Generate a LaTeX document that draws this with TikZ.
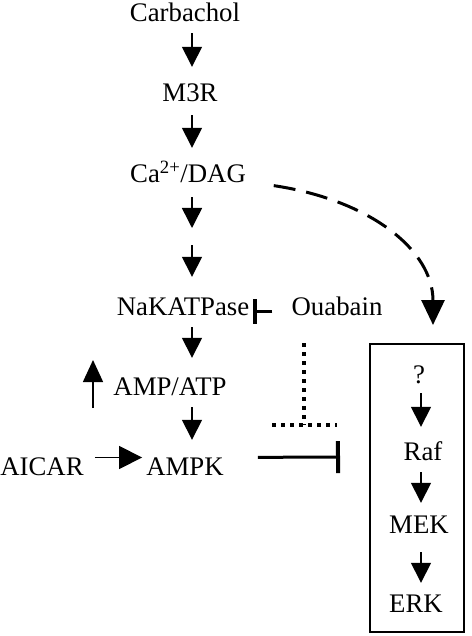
\documentclass[tikz,border=0pt]{standalone}
\usepackage{fontspec}
\setmainfont{Liberation Serif}
\usetikzlibrary{arrows.meta}
\tikzset{
  lbl/.style={inner sep=0pt, anchor=base, text height=18pt, text depth=5pt},
  act/.style={-{Triangle[length=20pt,width=20pt]}, line width=1.5pt,
              shorten <=7pt, shorten >=17pt},
  inh/.style={-{Rectangle[length=4pt, width=#1]}, line width=3pt},
  dashline/.style={dash pattern=on 22pt off 11pt, line width=3pt},
  dotline/.style={dash pattern=on 4pt off 5pt, line width=4pt},
}

\begin{document}
\begin{tikzpicture}[x=1pt,y=-1pt,font=\fontsize{26.8}{32}\selectfont]
\useasboundingbox (0,0) rectangle (471,636);
% main column
  \node[lbl] (carb) at (185,22) {Carbachol};
  \node[lbl] (m3r) at (190,102) {M3R};
  \node[lbl] (ca) at (188,183) {Ca\textsuperscript{2+}/DAG};
  \node[lbl] (nak) at (183,315) {NaKATPase};
  \node[lbl] (oua) at (337,315) {Ouabain};
  \node[lbl] (amp) at (170,395) {AMP/ATP};
  \node[lbl] (aicar) at (42,475) {AICAR};
  \node[lbl] (ampk) at (185,475) {AMPK};
  \coordinate (col) at (192,0);
  \coordinate (gap) at (192,237);
% the box
  \node[draw, line width=2pt, inner sep=0pt, minimum width=94pt,
        minimum height=288pt] (box) at (417,488) {};
  \node[lbl] (q) at (419,383) {?};
  \node[lbl] (raf) at (423,460) {Raf};
  \node[lbl] (mek) at (419,533) {MEK};
  \node[lbl] (erk) at (416,612) {ERK};
  \coordinate (bcol) at (421,0);
% arrows
  \draw[act, shorten <=6pt] (carb.south -| col) -- (m3r.north -| col);
  \draw[act, shorten <=8pt] (m3r.south -| col) -- (ca.north -| col);
  \draw[act, shorten <=9pt, shorten >=9pt] (ca.south -| col) -- (gap);
  \draw[act, shorten <=8pt, shorten >=20pt] (gap) -- (nak.north -| col);
  \draw[act, shorten >=19pt] (nak.south -| col) -- (amp.north -| col);
  \draw[act] (amp.south -| col) -- (ampk.north -| col);
  \draw[act, shorten <=5pt, shorten >=15pt] (q.south -| bcol) -- (raf.north -| bcol);
  \draw[act, shorten >=12pt] (raf.south -| bcol) -- (mek.north -| bcol);
  \draw[act, shorten <=14pt, shorten >=11pt] (mek.south -| bcol) -- (erk.north -| bcol);
  \draw[act, -{Triangle[length=23pt,width=23pt]}, shorten <=11pt, shorten >=4pt]
    ([yshift=11pt]aicar.east) -- ([yshift=11pt]ampk.west);
  \coordinate (upA) at (93,408);
  \coordinate (upB) at (93,360);
  \draw[act, -{Triangle[length=22pt,width=20pt]}, shorten <=0pt, shorten >=0pt]
    (upA) -- (upB);
% dashed path to the box
  \draw[dashline, -{Triangle[length=25pt,width=23pt]}, shorten <=28pt, shorten >=18pt]
    ([yshift=-5pt]ca.east) .. controls (370,200) and (433,250) .. ([xshift=16pt]box.north);
% inhibitions
  \draw[inh=25pt, shorten <=19pt, shorten >=4pt]
    ([yshift=-3pt]oua.west) -- ([yshift=-3pt]nak.east);
  \coordinate (stop) at (340,457);
  \draw[inh=32pt, shorten <=34pt] ([yshift=11pt]ampk.east) -- (stop);
  \coordinate (tee) at (304,425);
  \draw[dotline, shorten <=23pt] (oua.south -| tee) -- (tee);
  \draw[dotline] ([xshift=-32pt]tee) -- ([xshift=33pt]tee);
\end{tikzpicture}
\end{document}
